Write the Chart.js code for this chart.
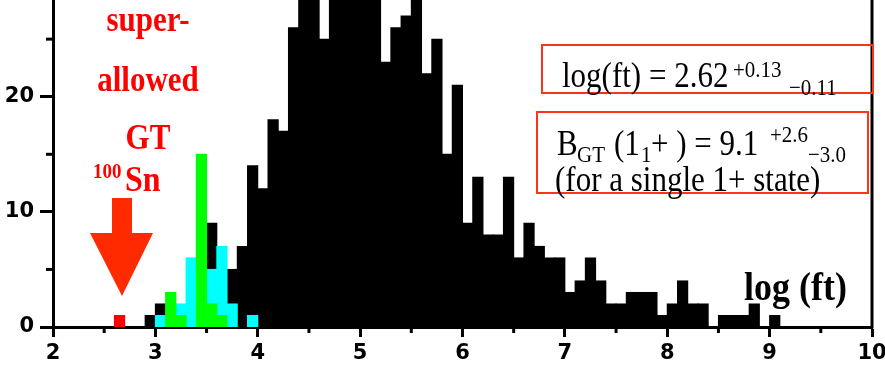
<!DOCTYPE html>
<html>
<head>
<meta charset="utf-8">
<script src="https://cdn.jsdelivr.net/npm/chart.js@4.4.0/dist/chart.umd.min.js"></script>
<style>
  html, body { margin: 0; padding: 0; background: #fff; }
  #wrap { width: 885px; height: 365px; }
</style>
</head>
<body>
<div id="wrap"><canvas id="logftChart" width="885" height="365"></canvas></div>
<script>
// log(ft) histograms, 0.1 wide bins (lower edge of each bin)
const binWidth = 0.1;

const blackBins = [2.9, 3.0, 3.5, 3.7, 3.8, 3.9,
    4.0, 4.1, 4.2, 4.3, 4.4, 4.5, 4.6, 4.7, 4.8, 4.9,
    5.0, 5.1, 5.2, 5.3, 5.4, 5.5, 5.6, 5.7, 5.8, 5.9,
    6.0, 6.1, 6.2, 6.3, 6.4, 6.5, 6.6, 6.7, 6.8, 6.9,
    7.0, 7.1, 7.2, 7.3, 7.4, 7.5, 7.6, 7.7, 7.8, 7.9,
    8.0, 8.1, 8.2, 8.3, 8.5, 8.6, 8.7, 8.8, 9.0];
const blackCounts = [1, 2, 9, 5, 7, 14,
    12, 18, 17, 26, 30, 33, 25, 31, 34, 36,
    33, 30, 23, 26, 27, 29, 22, 25, 15, 21,
    9, 13, 8, 8, 13, 6, 9, 7, 6, 6,
    3, 4, 6, 4, 2, 2, 3, 3, 3, 1,
    2, 4, 2, 2, 1, 1, 1, 2, 1];

const cyanBins = [3.0, 3.2, 3.3, 3.5, 3.6, 3.7, 3.9];
const cyanCounts = [1, 2, 6, 5, 7, 2, 1];

const greenBins = [3.1, 3.2, 3.4, 3.5, 3.6];
const greenCounts = [3, 1, 15, 2, 1];

const redBins = [2.6];
const redCounts = [1];

const xMinorTicks = [2.5, 3.5, 4.5, 5.5, 6.5, 7.5, 8.5, 9.5];
const yMinorTicks = [5, 15, 25];

function toPoints(bins, counts) {
    return bins.map((b, i) => ({ x: b + binWidth / 2, y: counts[i] }));
}

function histSet(bins, counts, color, order) {
    return {
        data: toPoints(bins, counts),
        backgroundColor: color,
        borderWidth: 0,
        inflateAmount: 0.5,
        barPercentage: 1,
        categoryPercentage: 1,
        grouped: false,
        order: order
    };
}

const tickFont = { family: 'DejaVu Sans', weight: 'bold', size: 21 };
const serif = 'Liberation Serif';
const stretch = 1.13; // the slide text is a bit taller than plain Times

function text(ctx, str, x, y, font, color, align) {
    ctx.save();
    ctx.font = font;
    ctx.fillStyle = color;
    ctx.textAlign = align || 'left';
    ctx.textBaseline = 'alphabetic';
    ctx.translate(x, y);
    ctx.scale(1, stretch);
    ctx.fillText(str, 0, 0);
    ctx.restore();
}

// frame, minor ticks and the annotations
const overlay = {
    id: 'overlay',
    afterDraw(chart) {
        const { ctx, chartArea: a, scales: { x, y } } = chart;
        ctx.save();
        ctx.strokeStyle = '#000';
        ctx.lineWidth = 3;
        ctx.beginPath();
        ctx.moveTo(a.right, a.top);
        ctx.lineTo(a.right, a.bottom + 1.5);
        ctx.stroke();

        xMinorTicks.forEach(v => {
            const px = x.getPixelForValue(v);
            ctx.beginPath();
            ctx.moveTo(px, a.bottom);
            ctx.lineTo(px, a.bottom + 6);
            ctx.stroke();
        });
        yMinorTicks.forEach(v => {
            const py = y.getPixelForValue(v);
            ctx.beginPath();
            ctx.moveTo(a.left - 7, py);
            ctx.lineTo(a.left, py);
            ctx.stroke();
        });

        // arrow pointing at 100Sn
        ctx.fillStyle = '#ff2a00';
        ctx.beginPath();
        ctx.moveTo(112, 198);
        ctx.lineTo(132, 198);
        ctx.lineTo(132, 233);
        ctx.lineTo(153, 233);
        ctx.lineTo(122, 296);
        ctx.lineTo(90, 233);
        ctx.lineTo(112, 233);
        ctx.closePath();
        ctx.fill();

        const red = '#ff0000';
        const bold31 = 'bold 31px "' + serif + '"';
        text(ctx, 'super-', 148, 31, bold31, red, 'center');
        text(ctx, 'allowed', 148, 91, bold31, red, 'center');
        text(ctx, 'GT', 148, 149, bold31, red, 'center');
        text(ctx, '100', 93, 178, 'bold 19px "' + serif + '"', red);
        text(ctx, 'Sn', 125, 191, 'bold 32px "' + serif + '"', red);

        // result boxes
        ctx.strokeStyle = '#ff3318';
        ctx.lineWidth = 2;
        ctx.strokeRect(542, 45, 331, 48);
        ctx.strokeRect(537, 112, 331, 81);

        const reg = '31px "' + serif + '"';
        const small = '21px "' + serif + '"';
        text(ctx, 'log(ft) = 2.62', 562, 87, reg, '#000');
        text(ctx, '+0.13', 733, 77, small, '#000');
        text(ctx, '\u22120.11', 789, 95, small, '#000');

        text(ctx, 'B', 557, 155, reg, '#000');
        text(ctx, 'GT', 577, 162, small, '#000');
        text(ctx, '(1', 614, 155, reg, '#000');
        text(ctx, '1', 641, 162, small, '#000');
        text(ctx, '+ ) = 9.1', 651, 155, reg, '#000');
        text(ctx, '+2.6', 770, 142, small, '#000');
        text(ctx, '\u22123.0', 808, 162, small, '#000');
        text(ctx, '(for a single 1+ state)', 555, 191, reg, '#000');

        text(ctx, 'log (ft)', 744, 300, 'bold 36px "' + serif + '"', '#000');
        ctx.restore();
    }
};

new Chart(document.getElementById('logftChart'), {
    type: 'bar',
    data: {
        datasets: [
            histSet(blackBins, blackCounts, '#000000', 3),
            histSet(cyanBins, cyanCounts, '#00ffff', 2),
            histSet(greenBins, greenCounts, '#00ff00', 1),
            histSet(redBins, redCounts, '#ff0000', 0)
        ]
    },
    options: {
        responsive: false,
        animation: false,
        devicePixelRatio: 1,
        layout: { padding: { top: 0, right: 13, bottom: 0, left: 0 } },
        plugins: {
            legend: { display: false },
            tooltip: { enabled: false }
        },
        scales: {
            x: {
                type: 'linear',
                min: 2,
                max: 10,
                offset: false,
                border: { display: true, color: '#000', width: 3 },
                grid: { display: true, offset: false, drawOnChartArea: false, tickLength: 10, tickWidth: 3, tickColor: '#000' },
                ticks: { stepSize: 1, padding: 4, color: '#000', font: tickFont, maxRotation: 0, autoSkip: false },
                afterFit(scale) {
                    scale.height = 38;
                    scale.paddingLeft = 0;
                    scale.paddingRight = 0;
                }
            },
            y: {
                min: 0,
                max: 28.4,
                border: { display: true, color: '#000', width: 3 },
                grid: { display: true, drawOnChartArea: false, tickLength: 13, tickWidth: 3, tickColor: '#000' },
                ticks: { stepSize: 10, includeBounds: false, padding: 6, color: '#000', font: tickFont },
                afterFit(scale) {
                    scale.width = 53;
                    scale.paddingTop = 0;
                    scale.paddingBottom = 0;
                }
            }
        }
    },
    plugins: [overlay]
});
</script>
</body>
</html>
